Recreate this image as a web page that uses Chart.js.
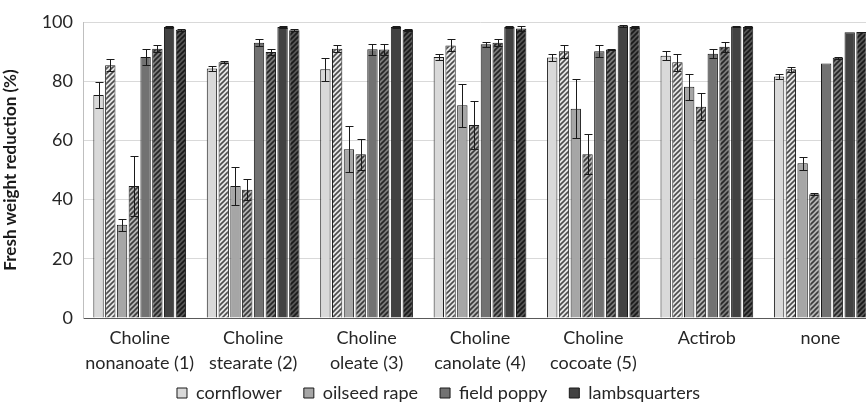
<!DOCTYPE html>
<html>
<head>
<meta charset="utf-8">
<script src="https://cdn.jsdelivr.net/npm/chart.js@4/dist/chart.umd.min.js"></script>
<style>
  html, body { margin: 0; padding: 0; background: #fff; overflow: hidden; }
  #wrap { width: 880px; height: 402px; }
</style>
</head>
<body>
<div id="wrap"><canvas id="c" width="880" height="402"></canvas></div>
<script>
// Treatments (x categories), two-line labels
const treatments = [
  ['Choline', 'nonanoate (1)'],
  ['Choline', 'stearate (2)'],
  ['Choline', 'oleate (3)'],
  ['Choline', 'canolate (4)'],
  ['Choline', 'cocoate (5)'],
  ['Actirob'],
  ['none']
];

const yTicks = [0, 20, 40, 60, 80, 100];

// Fresh weight reduction (%) — solid bars and hatched bars per species
const cornflowerSolid      = [75.3, 84.3, 84.0, 88.2, 88.0, 88.6, 81.6];
const cornflowerHatched    = [85.4, 86.4, 91.0, 92.1, 90.1, 86.4, 84.0];
const oilseedSolid         = [31.5, 44.6, 57.0, 71.9, 70.7, 78.1, 52.3];
const oilseedHatched       = [44.6, 43.3, 55.3, 65.2, 55.3, 71.4, 41.8];
const poppySolid           = [88.2, 93.0, 90.8, 92.5, 90.1, 89.3, 86.0];
const poppyHatched         = [91.0, 89.9, 90.7, 93.0, 90.7, 91.6, 87.9];
const lambsquartersSolid   = [98.3, 98.3, 98.3, 98.3, 98.7, 98.5, 96.5];
const lambsquartersHatched = [97.4, 97.2, 97.3, 97.8, 98.3, 98.3, 96.6];

// Standard errors
const cornflowerSolidErr      = [4.5, 1.0, 4.0, 1.0, 1.3, 1.6, 0.8];
const cornflowerHatchedErr    = [2.0, 0.4, 1.2, 2.0, 2.2, 2.9, 0.8];
const oilseedSolidErr         = [2.0, 6.5, 7.8, 7.3, 10.0, 4.3, 2.2];
const oilseedHatchedErr       = [10.2, 3.5, 5.2, 8.2, 6.7, 4.5, 0.3];
const poppySolidErr           = [2.6, 1.1, 1.9, 0.9, 2.0, 1.6, 0.0];
const poppyHatchedErr         = [1.2, 1.0, 1.8, 1.2, 0.3, 1.8, 0.3];
const lambsquartersSolidErr   = [0.3, 0.3, 0.3, 0.3, 0.3, 0.3, 0.0];
const lambsquartersHatchedErr = [0.3, 0.3, 0.3, 0.8, 0.3, 0.3, 0.0];

const FONT = 'Lato, "Open Sans", sans-serif';

// diagonal "/" hatching over a base fill
function hatch(base, stripe) {
  const s = 5;
  const cv = document.createElement('canvas');
  cv.width = s; cv.height = s;
  const g = cv.getContext('2d');
  g.fillStyle = base;
  g.fillRect(0, 0, s, s);
  g.strokeStyle = stripe;
  g.lineWidth = 1.6;
  g.beginPath();
  g.moveTo(-1, s + 1); g.lineTo(s + 1, -1);
  g.moveTo(-1, 1); g.lineTo(1, -1);
  g.moveTo(s - 1, s + 1); g.lineTo(s + 1, s - 1);
  g.stroke();
  return g.createPattern(cv, 'repeat');
}

const ctx = document.getElementById('c').getContext('2d');

function ds(label, data, err, fill, legend) {
  return {
    label, data, err, backgroundColor: fill,
    borderColor: '#1a1a1a', borderWidth: 1, inLegend: legend,
    categoryPercentage: 0.83, barPercentage: 0.88
  };
}

const datasets = [
  ds('cornflower', cornflowerSolid, cornflowerSolidErr, '#d9d9d9', true),
  ds('cornflower', cornflowerHatched, cornflowerHatchedErr, hatch('#e6e6e6', '#4d4d4d'), false),
  ds('oilseed rape', oilseedSolid, oilseedSolidErr, '#a6a6a6', true),
  ds('oilseed rape', oilseedHatched, oilseedHatchedErr, hatch('#b3b3b3', '#3a3a3a'), false),
  ds('field poppy', poppySolid, poppySolidErr, '#727272', true),
  ds('field poppy', poppyHatched, poppyHatchedErr, hatch('#7a7a7a', '#262626'), false),
  ds('lambsquarters', lambsquartersSolid, lambsquartersSolidErr, '#424242', true),
  ds('lambsquarters', lambsquartersHatched, lambsquartersHatchedErr, hatch('#555555', '#1a1a1a'), false)
];

// symmetric error bars with caps
const errorBars = {
  id: 'errorBars',
  afterDatasetsDraw(chart) {
    const y = chart.scales.y;
    const c = chart.ctx;
    c.save();
    c.strokeStyle = '#1a1a1a';
    c.lineWidth = 1;
    chart.data.datasets.forEach((d, i) => {
      const meta = chart.getDatasetMeta(i);
      meta.data.forEach((bar, j) => {
        const e = d.err[j];
        if (!e) return;
        const v = d.data[j];
        const yt = Math.round(y.getPixelForValue(v + e)) + 0.5;
        const yb = Math.round(y.getPixelForValue(v - e)) + 0.5;
        const x = Math.round(bar.x) + 0.5;
        const hw = 4;
        c.beginPath();
        c.moveTo(x, yt); c.lineTo(x, yb);
        c.moveTo(x - hw, yt); c.lineTo(x + hw, yt);
        c.moveTo(x - hw, yb); c.lineTo(x + hw, yb);
        c.stroke();
      });
    });
    c.restore();
  }
};

// sit the legend row just under the category labels
const legendRow = {
  id: 'legendRow',
  afterLayout(chart) {
    const L = chart.legend;
    const h = L.bottom - L.top;
    L.top = 362;
    L.bottom = 362 + h;
  }
};

new Chart(ctx, {
  type: 'bar',
  data: { labels: treatments, datasets },
  plugins: [errorBars, legendRow],
  options: {
    responsive: false,
    devicePixelRatio: 1,
    animation: false,
    layout: { padding: { top: 22, left: 0, right: 3, bottom: -22 } },
    plugins: {
      tooltip: { enabled: false },
      legend: {
        position: 'bottom',
        labels: {
          filter: (item, data) => data.datasets[item.datasetIndex].inLegend,
          boxWidth: 10, boxHeight: 10, padding: 22,
          color: '#262626',
          font: { family: FONT, size: 18 }
        }
      }
    },
    scales: {
      x: {
        grid: { display: false },
        border: { color: '#595959', width: 1 },
        afterFit: s => { s.height = 56; },
        ticks: { color: '#262626', font: { family: FONT, size: 18, lineHeight: 1.38 }, maxRotation: 0, autoSkip: false, padding: 0 }
      },
      y: {
        min: 0, max: 100,
        afterFit: s => { s.width = 83; },
        afterBuildTicks: s => { s.ticks = yTicks.map(v => ({ value: v })); },
        grid: { color: '#d9d9d9', drawTicks: false },
        border: { color: '#bfbfbf', width: 1 },
        ticks: { color: '#262626', font: { family: FONT, size: 18 }, padding: 10 },
        title: {
          display: true, text: 'Fresh weight reduction (%)',
          color: '#1a1a1a', font: { family: FONT, size: 17, weight: 'bold' }, padding: 0
        }
      }
    }
  }
});
</script>
</body>
</html>
